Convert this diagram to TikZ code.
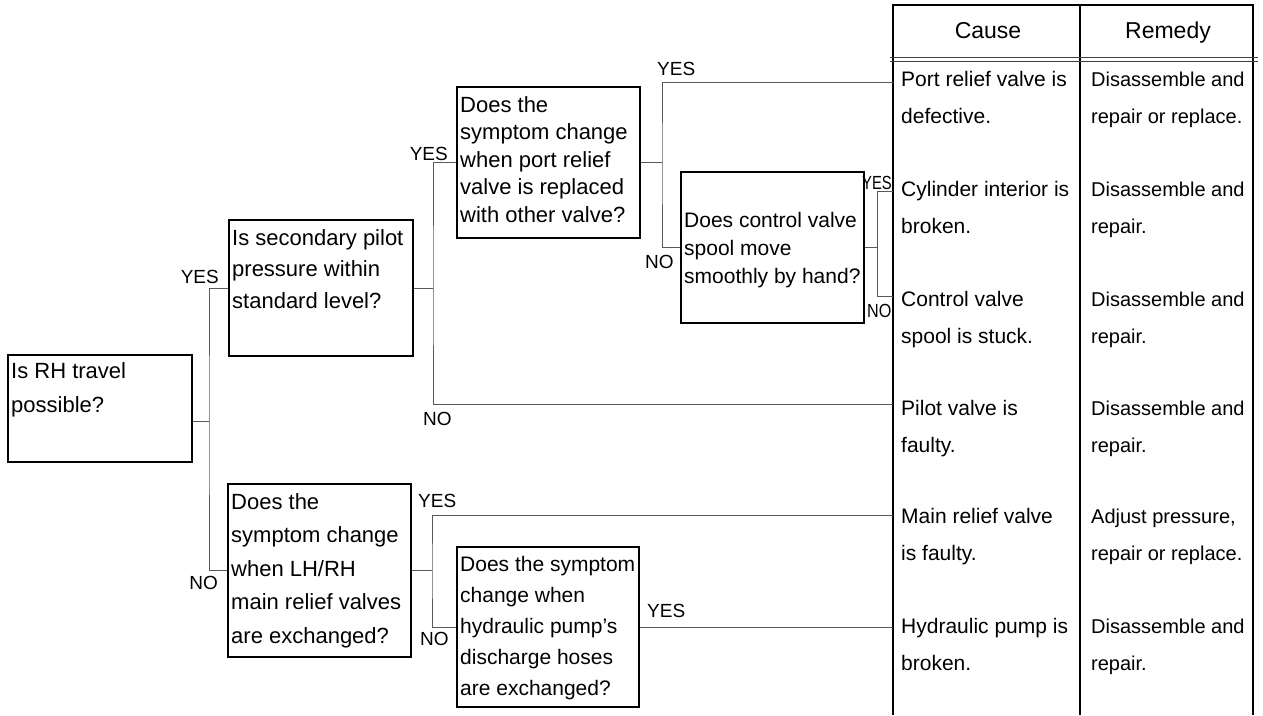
\documentclass[tikz,border=0pt]{standalone}
\usepackage{fontspec}
\setmainfont{Liberation Sans}
\begin{document}
\begin{tikzpicture}[x=1pt,y=-1pt,
  qbox/.style={draw=black,line width=1.3pt,inner sep=0pt},
  conn/.style={draw=black!65,line width=1pt},
  tline/.style={draw=black,line width=1.5pt},
  hline/.style={draw=black!75,line width=0.9pt},
  qtxt/.style={anchor=base west,align=left,inner sep=0pt},
  ttxt/.style={anchor=base west,align=left,inner sep=0pt,font=\fontsize{21}{37}\selectfont},
  rtxt/.style={anchor=base west,align=left,inner sep=0pt,font=\fontsize{20}{37}\selectfont},
  htxt/.style={anchor=base,inner sep=0pt,font=\fontsize{23}{28}\selectfont},
  lbl/.style={inner sep=0pt,font=\fontsize{19}{22}\selectfont}]
\useasboundingbox (0,0) rectangle (1263,715);

% question boxes
\node[qbox,minimum width=184,minimum height=107] (rh) at (100,408.5) {};
\node[qbox,minimum width=184,minimum height=136] (sec) at (321,288) {};
\node[qbox,minimum width=183,minimum height=151] (port) at (548.5,162.5) {};
\node[qbox,minimum width=183,minimum height=151] (ctl) at (772.5,247.5) {};
\node[qbox,minimum width=183,minimum height=173] (lh) at (319.5,570.5) {};
\node[qbox,minimum width=182,minimum height=160] (pump) at (548,627) {};

% question texts (anchored at the baseline of the last line)
\node[qtxt,font=\fontsize{22}{34}\selectfont] (rht) at (11,412) {Is RH travel\\possible?};
\node[qtxt,font=\fontsize{22}{31.5}\selectfont] (sect) at (232,308) {Is secondary pilot\\pressure within\\standard level?};
\node[qtxt,font=\fontsize{22}{27.5}\selectfont] (portt) at (460,222) {Does the\\symptom change\\when port relief\\valve is replaced\\with other valve?};
\node[qtxt,font=\fontsize{21}{28}\selectfont] (ctlt) at (684,283) {Does control valve\\spool move\\smoothly by hand?};
\node[qtxt,font=\fontsize{22}{33.5}\selectfont] (lht) at (231,643) {Does the\\symptom change\\when LH/RH\\main relief valves\\are exchanged?};
\node[qtxt,font=\fontsize{21}{31}\selectfont] (pumpt) at (460,695) {Does the symptom\\change when\\hydraulic pump's\\discharge hoses\\are exchanged?};

% table
\draw[tline] (893,715) -- (893,5) -- (1253,5) -- (1253,715);
\draw[tline] (1080,5) -- (1080,715);
\draw[hline] (890,57) -- (1258,57);
\draw[hline] (890,61) -- (1258,61);
\node[htxt] (hcause) at (988,38) {Cause};
\node[htxt] (hremedy) at (1168,38) {Remedy};

% table entry points
\coordinate (c1) at (893,82);
\coordinate (c2) at (893,191);
\coordinate (c3) at (893,296);
\coordinate (c4) at (893,404);
\coordinate (c5) at (893,515);
\coordinate (c6) at (893,626);

% causes and remedies (anchored at the baseline of the last line)
\node[ttxt] (ca1) at (901,123) {Port relief valve is\\defective.};
\node[rtxt] (re1) at (1091,123) {Disassemble and\\repair or replace.};
\node[ttxt] (ca2) at (901,233) {Cylinder interior is\\broken.};
\node[rtxt] (re2) at (1091,233) {Disassemble and\\repair.};
\node[ttxt] (ca3) at (901,343) {Control valve\\spool is stuck.};
\node[rtxt] (re3) at (1091,343) {Disassemble and\\repair.};
\node[ttxt] (ca4) at (901,452) {Pilot valve is\\faulty.};
\node[rtxt] (re4) at (1091,452) {Disassemble and\\repair.};
\node[ttxt] (ca5) at (901,560) {Main relief valve\\is faulty.};
\node[rtxt] (re5) at (1091,560) {Adjust pressure,\\repair or replace.};
\node[ttxt] (ca6) at (901,670) {Hydraulic pump is\\broken.};
\node[rtxt] (re6) at (1091,670) {Disassemble and\\repair.};

% junctions
\coordinate (j1) at (209,421);
\coordinate (j2) at (433,288);
\coordinate (j3) at (662,162.5);
\coordinate (j4) at (877,247.5);
\coordinate (j5) at (432,570.5);

% connectors
\draw[conn] (rh.east |- j1) -- (j1);
\draw[conn] (sec.west) -| (j1) |- (lh.west);
\draw[conn] (sec.east) -- (j2);
\draw[conn] (port.west) -| (j2) |- (c4);
\draw[conn] (port.east) -- (j3);
\draw[conn] (c1) -| (j3) |- (ctl.west);
\draw[conn] (ctl.east) -- (j4);
\draw[conn] (c2) -| (j4) |- (c3);
\draw[conn] (lh.east) -- (j5);
\draw[conn] (c5) -| (j5) |- (pump.west);
\draw[conn] (pump.east) -- (pump.east -| c6);

% labels
\node[lbl,anchor=base east] (y1) at (219,283) {YES};
\node[lbl,anchor=base east] (n1) at (218,589) {NO};
\node[lbl,anchor=base east] (y2) at (448,160) {YES};
\node[lbl,anchor=base west] (n2) at (423,425) {NO};
\node[lbl,anchor=base west] (y3) at (657,75) {YES};
\node[lbl,anchor=base west] (n3) at (645,268) {NO};
\node[lbl,anchor=base west] (y4) at (862,189) {\scalebox{0.78}[1]{YES}};
\node[lbl,anchor=base west] (n4) at (867,317) {\scalebox{0.85}[1]{NO}};
\node[lbl,anchor=base west] (y5) at (418,507) {YES};
\node[lbl,anchor=base west] (n5) at (420,645) {NO};
\node[lbl,anchor=base west] (y6) at (647,617) {YES};
\end{tikzpicture}
\end{document}
